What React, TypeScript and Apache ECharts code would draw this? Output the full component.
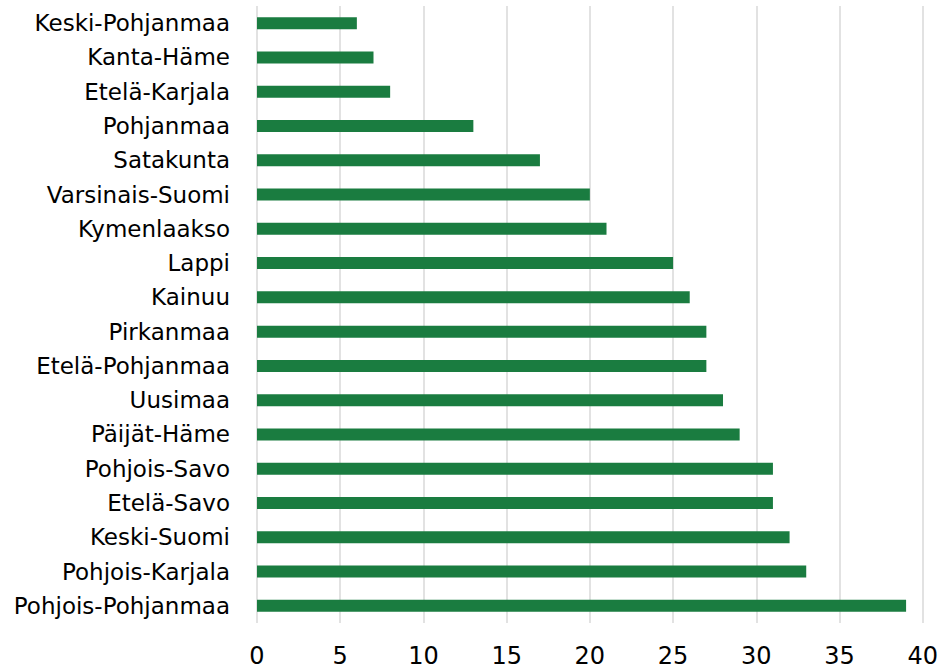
import React, { useEffect, useRef } from "react";
import * as echarts from "echarts";

const categories = [
  "Keski-Pohjanmaa",
  "Kanta-Häme",
  "Etelä-Karjala",
  "Pohjanmaa",
  "Satakunta",
  "Varsinais-Suomi",
  "Kymenlaakso",
  "Lappi",
  "Kainuu",
  "Pirkanmaa",
  "Etelä-Pohjanmaa",
  "Uusimaa",
  "Päijät-Häme",
  "Pohjois-Savo",
  "Etelä-Savo",
  "Keski-Suomi",
  "Pohjois-Karjala",
  "Pohjois-Pohjanmaa",
];

const values = [6, 7, 8, 13, 17, 20, 21, 25, 26, 27, 27, 28, 29, 31, 31, 32, 33, 39];

const xMin = 0;
const xMax = 40;
const xInterval = 5;

export default function App() {
  const ref = useRef<HTMLDivElement>(null);
  useEffect(() => {
    if (!ref.current) return;
    const chart = echarts.init(ref.current, null, { renderer: "svg" });
    chart.setOption({
      animation: false,
      backgroundColor: "#ffffff",
      grid: { left: 257, right: 12, top: 6, bottom: 48, containLabel: false },
      xAxis: {
        type: "value",
        min: xMin,
        max: xMax,
        interval: xInterval,
        axisLine: { show: false },
        axisTick: { show: false },
        axisLabel: {
          color: "#000000",
          fontSize: 24,
          fontFamily: "DejaVu Sans",
          margin: 21,
        },
        splitLine: { show: true, lineStyle: { color: "#d9d9d9", width: 1.5 } },
      },
      yAxis: {
        type: "category",
        data: categories,
        inverse: true,
        axisLine: { show: false },
        axisTick: { show: false },
        axisLabel: {
          color: "#000000",
          fontSize: 23,
          fontFamily: "DejaVu Sans",
          margin: 27,
        },
        splitLine: { show: false },
      },
      series: [
        {
          type: "bar",
          data: values,
          barWidth: 12,
          itemStyle: { color: "#1a7c40" },
        },
      ],
    });
    return () => chart.dispose();
  }, []);
  return (
    <div
      ref={ref}
      style={{ position: "absolute", left: 0, top: 0, width: 941, height: 671 }}
    />
  );
}
